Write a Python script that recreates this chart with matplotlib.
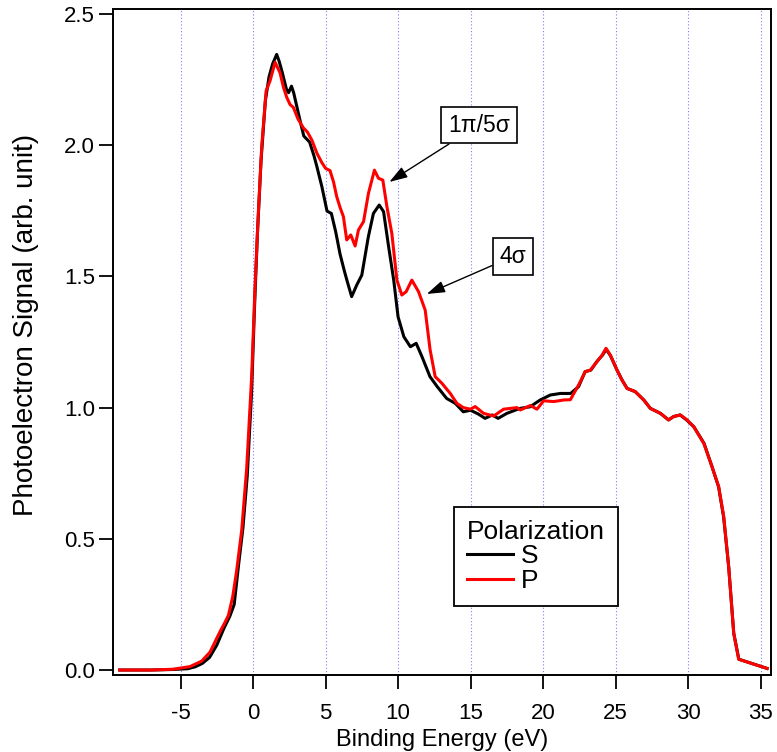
import numpy as np
import matplotlib
matplotlib.use("Agg")
import matplotlib.pyplot as plt
from matplotlib.ticker import FormatStrFormatter

plt.rcParams['font.family'] = ['Liberation Sans', 'DejaVu Sans']
plt.rcParams['axes.unicode_minus'] = False

# s-polarized spectrum (binding energy in eV, signal in arb. unit)
energy_s = [-9.2, -7.0, -5.5, -4.5, -4.0, -3.5, -3.0, -2.5, -2.0, -1.6, -1.3,
            -1.0, -0.7, -0.4, -0.1, 0.1, 0.3, 0.55, 0.85, 1.1, 1.35, 1.63, 1.8,
            2.0, 2.3, 2.45, 2.65, 2.8, 3.0, 3.3, 3.5, 3.9, 4.2, 4.4, 4.75, 5.1,
            5.4, 5.7, 6.0, 6.3, 6.5, 6.8, 7.15, 7.5, 7.95, 8.3, 8.7, 9.0, 9.35,
            9.7, 10.0, 10.4, 10.85, 11.25, 11.65, 12.2, 12.7, 13.35, 13.95,
            14.5, 15.0, 15.55, 16.0, 16.5, 16.9, 17.5, 18.4, 19.1, 19.8, 20.5,
            21.2, 21.9, 22.45, 22.9, 23.3, 23.7, 24.1, 24.35, 24.65, 25.1,
            25.45, 25.8, 26.35, 26.95, 27.4, 28.1, 28.65, 29.0, 29.45, 29.9,
            30.4, 31.1, 31.65, 32.1, 32.45, 32.8, 33.15, 33.5, 35.45]
signal_s = [0.0, 0.0, 0.002, 0.005, 0.012, 0.025, 0.048, 0.095, 0.16, 0.205,
            0.25, 0.40, 0.54, 0.74, 1.06, 1.38, 1.66, 1.94, 2.17, 2.26, 2.31,
            2.346, 2.32, 2.28, 2.214, 2.20, 2.225, 2.20, 2.152, 2.08, 2.035,
            2.012, 1.96, 1.919, 1.841, 1.749, 1.74, 1.67, 1.585, 1.52, 1.48,
            1.423, 1.467, 1.505, 1.651, 1.74, 1.772, 1.747, 1.613, 1.486,
            1.346, 1.27, 1.232, 1.245, 1.194, 1.118, 1.08, 1.035, 1.016,
            0.984, 0.99, 0.975, 0.959, 0.972, 0.959, 0.978, 0.997, 1.003,
            1.029, 1.048, 1.054, 1.054, 1.08, 1.137, 1.143, 1.175, 1.2, 1.222,
            1.198, 1.143, 1.105, 1.073, 1.061, 1.029, 0.997, 0.978, 0.953,
            0.966, 0.972, 0.953, 0.927, 0.864, 0.775, 0.699, 0.584, 0.394,
            0.14, 0.041, 0.006]

# p-polarized spectrum
energy_p = [-9.2, -7.0, -5.5, -4.35, -3.54, -2.97, -2.6, -2.28, -1.95, -1.7,
            -1.4, -1.13, -0.78, -0.44, -0.09, 0.14, 0.37, 0.6, 0.9, 1.17, 1.52,
            1.86, 2.1, 2.32, 2.55, 2.78, 3.1, 3.47, 3.75, 4.05, 4.4, 4.74, 5.0,
            5.31, 5.55, 5.77, 6.0, 6.23, 6.46, 6.74, 7.04, 7.27, 7.62, 7.96,
            8.37, 8.65, 8.95, 9.23, 9.57, 9.92, 10.26, 10.56, 10.95, 11.41,
            11.87, 12.21, 12.56, 13.02, 13.6, 14.06, 14.5, 14.98, 15.32, 15.9,
            16.59, 17.28, 18.2, 18.43, 19.12, 19.58, 20.04, 20.73, 21.42, 21.88,
            22.45, 22.91, 23.26, 23.72, 24.07, 24.34, 24.64, 25.1, 25.44, 25.79,
            26.36, 26.94, 27.4, 28.09, 28.66, 29.0, 29.47, 29.93, 30.39, 31.08,
            31.65, 32.11, 32.46, 32.8, 33.15, 33.49, 35.45]
signal_p = [0.0, 0.0, 0.003, 0.013, 0.034, 0.068, 0.11, 0.146, 0.18, 0.208,
            0.28, 0.379, 0.534, 0.768, 1.125, 1.468, 1.748, 1.997, 2.207, 2.245,
            2.316, 2.276, 2.22, 2.183, 2.155, 2.144, 2.10, 2.066, 2.05, 2.02,
            1.97, 1.934, 1.912, 1.903, 1.86, 1.804, 1.763, 1.728, 1.639, 1.658,
            1.616, 1.677, 1.709, 1.817, 1.905, 1.874, 1.867, 1.766, 1.664,
            1.486, 1.429, 1.442, 1.486, 1.442, 1.372, 1.22, 1.118, 1.093, 1.054,
            1.016, 1.0, 0.994, 1.004, 0.978, 0.968, 0.994, 1.0, 0.991, 1.008,
            0.994, 1.026, 1.023, 1.029, 1.03, 1.086, 1.137, 1.143, 1.175, 1.2,
            1.226, 1.2, 1.143, 1.105, 1.073, 1.061, 1.029, 0.997, 0.978, 0.953,
            0.966, 0.972, 0.953, 0.927, 0.864, 0.775, 0.699, 0.584, 0.394, 0.14,
            0.041, 0.006]

x_ticks = [-5, 0, 5, 10, 15, 20, 25, 30, 35]
y_ticks = [0.0, 0.5, 1.0, 1.5, 2.0, 2.5]

# peak labels: text, text position, arrow tip
peak_labels = [
    ("1\u03c0/5\u03c3", (15.57, 2.077), (9.40, 1.860)),
    ("4\u03c3", (17.92, 1.576), (11.98, 1.433)),
]

fig = plt.figure(figsize=(7.77, 7.52), dpi=100)
ax = fig.add_axes([0.1454, 0.1024, 0.8469, 0.8856])

ax.plot(energy_s, signal_s, color='black', lw=2.2, label='S', zorder=3)
ax.plot(energy_p, signal_p, color='#ff0000', lw=2.2, label='P', zorder=4)

ax.set_xlim(-9.66, 35.72)
ax.set_ylim(-0.019, 2.519)
ax.set_xticks(x_ticks)
ax.set_yticks(y_ticks)
ax.yaxis.set_major_formatter(FormatStrFormatter('%.1f'))
ax.tick_params(direction='out', length=10, width=1.3, labelsize=16)
ax.tick_params(axis='x', pad=10)
ax.tick_params(axis='y', pad=3)

ax.xaxis.grid(True, color='#7f7fff', linestyle=(0, (1, 2)), linewidth=0.8)
ax.set_axisbelow(True)
for sp in ax.spines.values():
    sp.set_linewidth(1.4)

ax.set_xlabel('Binding Energy (eV)', fontsize=17, labelpad=4)
ax.set_ylabel('Photoelectron Signal (arb. unit)', fontsize=20)
ax.yaxis.set_label_coords(-0.112, 0.525)

for text, xy_text, xy_tip in peak_labels:
    ax.annotate(text, xy=xy_tip, xytext=xy_text, fontsize=16.5,
                ha='center', va='center',
                bbox=dict(boxstyle='square,pad=0.3', fc='white', ec='black', lw=1.2),
                arrowprops=dict(arrowstyle='-|>,head_length=0.55,head_width=0.18',
                                mutation_scale=20, color='black', lw=1.0,
                                shrinkA=0, shrinkB=0),
                zorder=6)

leg = ax.legend(title='Polarization', loc='lower left',
                bbox_to_anchor=(0.518, 0.1036), borderaxespad=0,
                fontsize=19, title_fontsize=19, fancybox=False,
                edgecolor='black', framealpha=1, handlelength=1.75,
                handletextpad=0.3, borderpad=0.5,
                alignment='left', labelspacing=0.02)
leg.get_frame().set_linewidth(1.3)

fig.savefig('out.png', dpi=100)
